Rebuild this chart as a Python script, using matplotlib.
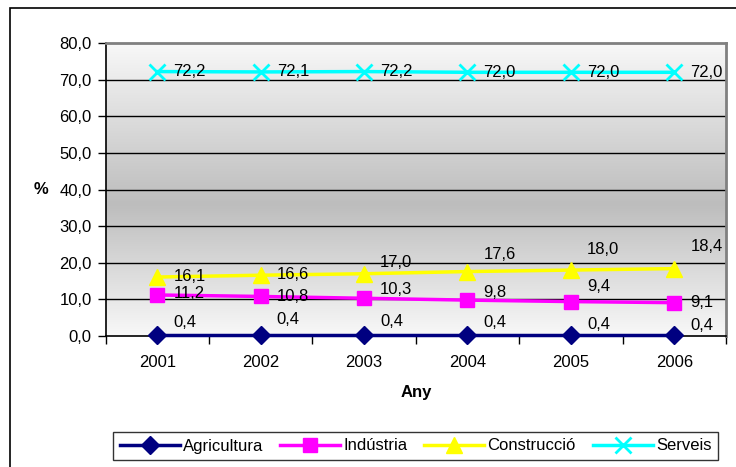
import matplotlib
matplotlib.use("Agg")
import matplotlib.pyplot as plt
import numpy as np
from matplotlib.patches import Rectangle
from matplotlib.colors import LinearSegmentedColormap

plt.rcParams['font.family'] = ['Liberation Sans', 'DejaVu Sans']

years = ['2001', '2002', '2003', '2004', '2005', '2006']
agricultura = [0.4, 0.4, 0.4, 0.4, 0.4, 0.4]
industria = [11.2, 10.8, 10.3, 9.8, 9.4, 9.1]
construccio = [16.1, 16.6, 17.0, 17.6, 18.0, 18.4]
serveis = [72.2, 72.1, 72.2, 72.0, 72.0, 72.0]
series_names = ['Agricultura', 'Indústria', 'Construcció', 'Serveis']
yticks = [0, 10, 20, 30, 40, 50, 60, 70, 80]

FS = 12
W, H = 736, 467
fig = plt.figure(figsize=(W / 100, H / 100), dpi=100)
L, R, T, B = 105.6, 726, 43, 336
ax = fig.add_axes([L / W, 1 - B / H, (R - L) / W, (B - T) / H])

x = np.arange(len(years))
ax.set_xlim(-0.5, len(years) - 0.5)
ax.set_ylim(0, 80)

# gradient background
cmap = LinearSegmentedColormap.from_list('g', [(0, '#f8f8f8'), (0.55, '#bdbdbd'), (1, '#f8f8f8')])
grad = np.linspace(0, 1, 256).reshape(-1, 1)
ax.imshow(grad, cmap=cmap, aspect='auto', extent=(-0.5, len(years) - 0.5, 0, 80),
          origin='upper', zorder=0, interpolation='bilinear')

for v in yticks[1:-1]:
    ax.axhline(v, color='black', lw=1, zorder=1)

styles = [
    (agricultura, '#000080', 'D', 9.5, None),
    (industria, '#FF00FF', 's', 10.5, None),
    (construccio, '#FFFF00', '^', 11.5, None),
    (serveis, '#00FFFF', 'x', 11, 2),
]
handles = []
for (vals, col, mk, ms, mew), name in zip(styles, series_names):
    kw = dict(markeredgewidth=mew) if mew else {}
    h, = ax.plot(x, vals, color=col, lw=2.5, marker=mk, ms=ms, mec=col, mfc=col,
                 zorder=3, clip_on=False, label=name, **kw)
    handles.append(h)

# data labels (pixel offsets: dy upward)
label_offsets = {
    0: [12, 15, 13, 12, 10, 9],
    1: [1, 0, 9, 8, 15, 0],
    2: [1, 1, 11, 17, 21, 22],
    3: [0, 0, 0, 0, 0, 0],
}
for i, (vals, *_rest) in enumerate(styles):
    for j, v in enumerate(vals):
        ax.annotate(f"{v:.1f}".replace('.', ','), (x[j], v),
                    xytext=(16, label_offsets[i][j]), textcoords='offset pixels',
                    ha='left', va='center', fontsize=FS, zorder=5)

ax.set_yticks(yticks)
ax.set_yticklabels([f"{v:.1f}".replace('.', ',') for v in yticks], fontsize=FS)
ax.set_xticks(x)
ax.set_xticklabels(years, fontsize=FS)
ax.tick_params(axis='x', length=0, pad=14)
ax.tick_params(axis='y', length=6, width=1, direction='out', pad=4)
ax.set_xticks(np.arange(-0.5, len(years)), minor=True)
ax.tick_params(axis='x', which='minor', length=6, width=1, direction='out')

for s in ['left', 'bottom']:
    ax.spines[s].set_color('black')
    ax.spines[s].set_linewidth(1.2)
for s in ['top', 'right']:
    ax.spines[s].set_color('#808080')
    ax.spines[s].set_linewidth(2)

fig.text(416 / W, 1 - 393 / H, 'Any', ha='center', va='center', fontsize=FS, fontweight='bold')
fig.text(41 / W, 1 - 190 / H, '%', ha='center', va='center', fontsize=FS, fontweight='bold')

leg = fig.legend(handles=handles, loc='center', bbox_to_anchor=(415.5 / W, 1 - 446 / H),
                 ncol=4, frameon=True, fancybox=False, fontsize=FS, handlelength=3.6,
                 columnspacing=1.0, handletextpad=0.2, borderpad=0.4, edgecolor='black')
leg.get_frame().set_linewidth(1)

# outer frame
fig.patches.append(Rectangle((10 / W, -0.1), 1.2, 1 - 7.5 / H + 0.1, transform=fig.transFigure,
                             fill=False, edgecolor='black', lw=1.2))

fig.savefig('out.png', dpi=100)
